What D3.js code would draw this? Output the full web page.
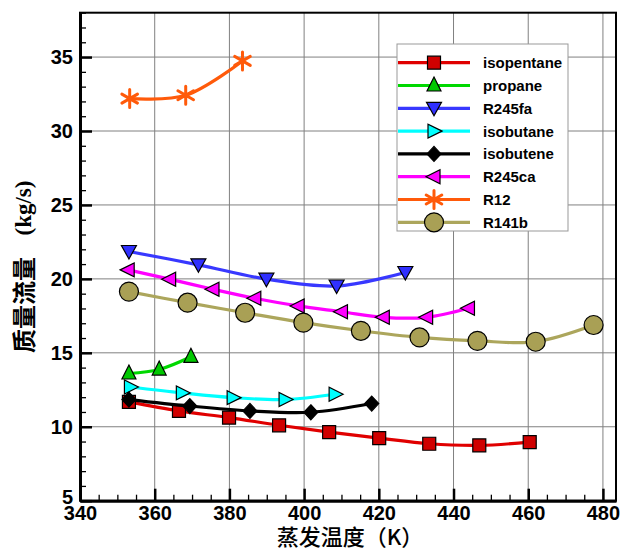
<!DOCTYPE html>
<html>
<head>
<meta charset="utf-8">
<script src="https://cdn.jsdelivr.net/npm/d3@7"></script>
<style>
  body { margin: 0; background: #fff; }
  svg { display: block; }
</style>
</head>
<body>
<svg id="chart" width="622" height="550"></svg>
<script>
// data (temperature K, mass flow kg/s)
const isopentaneT = [353.1, 366.5, 379.9, 393.3, 406.7, 420.1, 433.5, 446.9, 460.4];
const isopentaneV = [11.68, 11.07, 10.62, 10.10, 9.64, 9.23, 8.85, 8.74, 8.96];
const propaneT = [353.1, 361.2, 369.7];
const propaneV = [13.60, 13.87, 14.73];
const r245faT = [353.1, 371.7, 389.9, 408.7, 427.1];
const r245faV = [21.85, 20.95, 19.98, 19.52, 20.43];
const isobutaneT = [353.5, 367.4, 381.0, 394.9, 408.3];
const isobutaneV = [12.69, 12.29, 11.97, 11.84, 12.20];
const isobuteneT = [353.1, 369.4, 385.5, 401.8, 418.1];
const isobuteneV = [11.84, 11.40, 11.07, 10.98, 11.57];
const r245caT = [352.9, 364.0, 375.6, 386.8, 398.4, 410.0, 421.2, 432.8, 444.0];
const r245caV = [20.61, 19.98, 19.30, 18.69, 18.17, 17.78, 17.40, 17.40, 18.01];
const r12T = [353.3, 368.3, 383.5];
const r12V = [32.19, 32.42, 34.74];
const r141bT = [353.1, 368.8, 384.2, 399.8, 415.2, 430.9, 446.4, 462.0, 477.5];
const r141bV = [19.14, 18.39, 17.71, 17.04, 16.49, 16.04, 15.81, 15.75, 16.88];

const seriesNames = ['isopentane', 'propane', 'R245fa', 'isobutane', 'isobutene', 'R245ca', 'R12', 'R141b'];
const xTicks = [340, 360, 380, 400, 420, 440, 460, 480];
const yTicks = [5, 10, 15, 20, 25, 30, 35];

// styling per series
const series = [
  {name: seriesNames[0], t: isopentaneT, v: isopentaneV, line: '#e00000', fill: '#d00000', mark: 'square'},
  {name: seriesNames[1], t: propaneT,    v: propaneV,    line: '#00d800', fill: '#00c800', mark: 'up'},
  {name: seriesNames[2], t: r245faT,     v: r245faV,     line: '#3838ff', fill: '#3030ff', mark: 'down'},
  {name: seriesNames[3], t: isobutaneT,  v: isobutaneV,  line: '#00ffff', fill: '#00ffff', mark: 'right'},
  {name: seriesNames[4], t: isobuteneT,  v: isobuteneV,  line: '#000000', fill: '#000000', mark: 'diamond'},
  {name: seriesNames[5], t: r245caT,     v: r245caV,     line: '#ff00ff', fill: '#ff00ff', mark: 'left'},
  {name: seriesNames[6], t: r12T,        v: r12V,        line: '#ff5a0a', fill: '#ff5a0a', mark: 'star'},
  {name: seriesNames[7], t: r141bT,      v: r141bV,      line: '#aca65c', fill: '#a9a055', mark: 'circle'}
];

const svg = d3.select('#chart');
const plotLeft = 80, plotRight = 616, plotTop = 12.7, plotBottom = 500.7;

const x = d3.scaleLinear().domain([340, 483.5]).range([plotLeft, plotRight]);
const y = d3.scaleLinear().domain([5, 38]).range([plotBottom, plotTop]);

// grid
const grid = svg.append('g').attr('stroke', '#808080').attr('stroke-width', 1);
grid.selectAll('.gx').data(xTicks.slice(1)).join('line')
    .attr('x1', d => x(d)).attr('x2', d => x(d))
    .attr('y1', plotTop).attr('y2', plotBottom);
grid.selectAll('.gy').data(yTicks.slice(1)).join('line')
    .attr('x1', plotLeft).attr('x2', plotRight)
    .attr('y1', d => y(d)).attr('y2', d => y(d));

// frame
svg.append('rect')
    .attr('x', plotLeft).attr('y', plotTop)
    .attr('width', plotRight - plotLeft).attr('height', plotBottom - plotTop)
    .attr('fill', 'none').attr('stroke', '#000').attr('stroke-width', 2);

// minor ticks
const minorX = d3.range(340, 484, 5).filter(d => d % 20 != 0);
const minorY = d3.range(5, 38.1, 1).filter(d => d % 5 != 0);

svg.append('g').attr('transform', `translate(0,${plotBottom})`)
    .call(d3.axisBottom(x).tickValues(minorX).tickFormat('').tickSizeInner(-6).tickSizeOuter(0))
    .call(g => g.select('.domain').remove())
    .selectAll('line').attr('stroke-width', 1.3);
svg.append('g').attr('transform', `translate(${plotLeft},0)`)
    .call(d3.axisLeft(y).tickValues(minorY).tickFormat('').tickSizeInner(-6).tickSizeOuter(0))
    .call(g => g.select('.domain').remove())
    .selectAll('line').attr('stroke-width', 1.3);

// major axes
const xAxis = svg.append('g').attr('transform', `translate(0,${plotBottom})`)
    .call(d3.axisBottom(x).tickValues(xTicks).tickSizeInner(-12).tickSizeOuter(0).tickPadding(5));
const yAxis = svg.append('g').attr('transform', `translate(${plotLeft},0)`)
    .call(d3.axisLeft(y).tickValues(yTicks).tickSizeInner(-12).tickSizeOuter(0).tickPadding(7));

[xAxis, yAxis].forEach(g => {
  g.select('.domain').attr('stroke-width', 3);
  g.selectAll('.tick line').attr('stroke-width', 2.5);
  g.selectAll('.tick text')
      .attr('fill', '#000')
      .style('font-family', '"Liberation Sans", Arial, sans-serif')
      .style('font-size', '20px')
      .style('font-weight', 'bold');
});
// the "5" sits just above the "340" at the corner
yAxis.selectAll('.tick text').filter(d => d == 5).attr('dy', '0.12em');

// marker paths
function markerPath(type) {
  switch (type) {
    case 'square':  return 'M-6.5,-6.5H6.5V6.5H-6.5Z';
    case 'up':      return 'M0,-8.5L7,5.5L-7,5.5Z';
    case 'down':    return 'M0,7.5L-7.5,-6L7.5,-6Z';
    case 'right':   return 'M8,0L-6,7L-6,-7Z';
    case 'left':    return 'M-8,0L6,7L6,-7Z';
    case 'diamond': return 'M0,-7.5L7,0L0,7.5L-7,0Z';
    case 'circle':  return d3.symbol(d3.symbolCircle, Math.PI * 9.5 * 9.5)();
    case 'star':    return 'M0,-9V9M-7.8,-4.5L7.8,4.5M-7.8,4.5L7.8,-4.5';
  }
}

function drawMarker(g, s, cx, cy) {
  const p = g.append('path')
      .attr('transform', `translate(${cx},${cy})`)
      .attr('d', markerPath(s.mark));
  if (s.mark == 'star') {
    p.attr('fill', 'none').attr('stroke', s.fill).attr('stroke-width', 3).attr('stroke-linecap', 'round');
  } else {
    p.attr('fill', s.fill).attr('stroke', '#000').attr('stroke-width', 1.2);
  }
}

const line = d3.line()
    .x(d => x(d[0])).y(d => y(d[1]))
    .curve(d3.curveCatmullRom.alpha(0.5));

// curves + markers
series.forEach(s => {
  const pts = s.t.map((t, i) => [t, s.v[i]]);
  const g = svg.append('g');
  g.append('path')
      .attr('d', line(pts))
      .attr('fill', 'none')
      .attr('stroke', s.line)
      .attr('stroke-width', 3.2);
  pts.forEach(p => drawMarker(g, s, x(p[0]), y(p[1])));
});

// legend
const legend = svg.append('g');
legend.append('rect')
    .attr('x', 397).attr('y', 44).attr('width', 171).attr('height', 187)
    .attr('fill', '#fff').attr('stroke', '#999').attr('stroke-width', 1);

series.forEach((s, i) => {
  const ly = 62.7 + i * 22.8;
  legend.append('line')
      .attr('x1', 398).attr('x2', 470).attr('y1', ly).attr('y2', ly)
      .attr('stroke', s.line).attr('stroke-width', 3.2);
  drawMarker(legend, s, 434, ly);
  legend.append('text')
      .attr('x', 483).attr('y', ly)
      .attr('dy', '0.36em')
      .attr('fill', '#000')
      .style('font-family', '"Liberation Sans", Arial, sans-serif')
      .style('font-size', '15px')
      .style('font-weight', 'bold')
      .text(s.name);
});

// axis titles
svg.append('text')
    .attr('x', 350).attr('y', 545)
    .attr('text-anchor', 'middle')
    .attr('fill', '#000')
    .style('font-family', '"Noto Sans CJK SC", sans-serif')
    .style('font-size', '22px')
    .style('font-weight', 500)
    .text('蒸发温度（K）');

svg.append('text')
    .attr('transform', 'translate(24,305) rotate(-90)')
    .attr('text-anchor', 'middle')
    .attr('dy', '0.36em')
    .attr('fill', '#000')
    .style('font-family', '"Noto Sans CJK SC", sans-serif')
    .style('font-size', '24px')
    .style('font-weight', 'bold')
    .text('质量流量');
svg.append('text')
    .attr('transform', 'translate(24,208) rotate(-90)')
    .attr('text-anchor', 'middle')
    .attr('dy', '0.32em')
    .attr('fill', '#000')
    .style('font-family', '"Liberation Serif", serif')
    .style('font-size', '23px')
    .style('font-weight', 'bold')
    .text('(kg/s)');
</script>
</body>
</html>
